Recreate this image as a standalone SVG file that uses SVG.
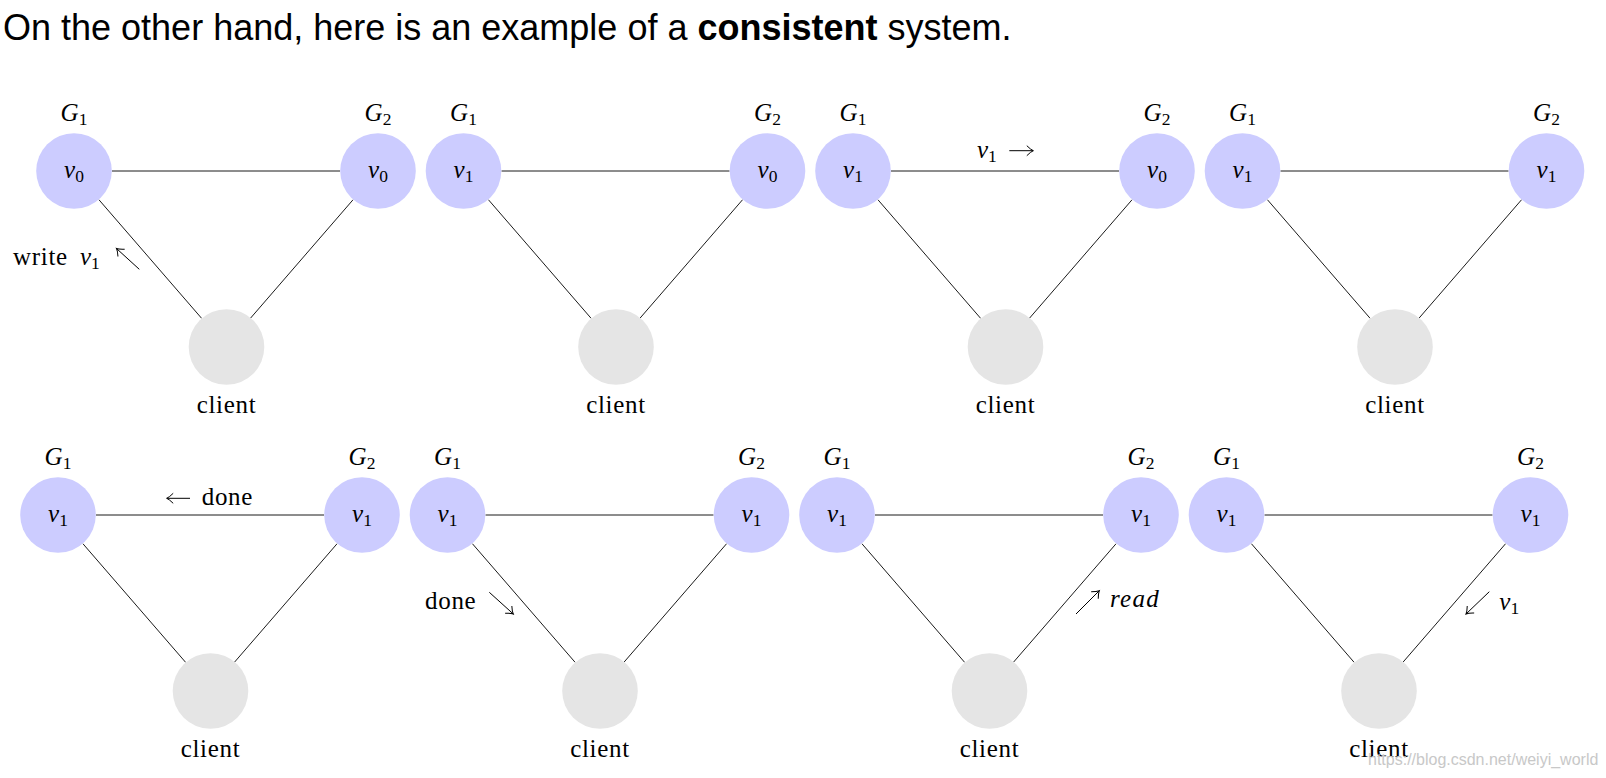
<svg xmlns="http://www.w3.org/2000/svg" width="1606" height="778" viewBox="0 0 1606 778">
<style>
.srv{fill:#ccccff}
.cli{fill:#e5e5e5}
.edge{stroke:#000;stroke-width:0.9;fill:none}
.arr{stroke:#000;stroke-width:1;fill:none;marker-end:url(#ah)}
.t{font-family:"Liberation Serif","Times New Roman",serif;font-size:25px;fill:#000}
.rm{letter-spacing:0.7px}
.it{font-style:italic}
.sub{font-style:normal;font-size:17.5px}
.title{font-family:"Liberation Sans",Arial,sans-serif;font-size:36px;fill:#000}
.wm{font-family:"Liberation Sans",Arial,sans-serif;font-size:16px;fill:#c8c8c8}
</style>
<defs>
<marker id="ah" markerUnits="userSpaceOnUse" markerWidth="14" markerHeight="14" refX="0" refY="0" viewBox="-8 -7 10 14" orient="auto" overflow="visible">
<path d="M -6.5,-5 Q -2.5,-1 0,0 Q -2.5,1 -6.5,5" stroke="#000" stroke-width="1" fill="none"/>
</marker>
</defs>
<rect width="1606" height="778" fill="#fff"/>
<text class="title" x="3" y="40">On the other hand, here is an example of a <tspan font-weight="bold">consistent</tspan> system.</text>

<g id="connectors">
<path class="edge" d="M112,171H340M98.9,199.7L201.6,318.3M353.1,199.7L250.4,318.3"/>
<path class="edge" d="M501.5,171H729.5M488.4,199.7L591.1,318.3M742.6,199.7L639.9,318.3"/>
<path class="edge" d="M891,171H1119M877.9,199.7L980.6,318.3M1132.1,199.7L1029.4,318.3"/>
<path class="edge" d="M1280.5,171H1508.5M1267.4,199.7L1370.1,318.3M1521.6,199.7L1418.9,318.3"/>
<path class="edge" d="M96,515H324M82.9,543.7L185.6,662.3M337.1,543.7L234.4,662.3"/>
<path class="edge" d="M485.5,515H713.5M472.4,543.7L575.1,662.3M726.6,543.7L623.9,662.3"/>
<path class="edge" d="M875,515H1103M861.9,543.7L964.6,662.3M1116.1,543.7L1013.4,662.3"/>
<path class="edge" d="M1264.5,515H1492.5M1251.4,543.7L1354.1,662.3M1505.6,543.7L1402.9,662.3"/>
</g>

<g id="p1-G1"><circle class="srv" cx="74" cy="171" r="37.8"/><text class="t it" x="74" y="178" text-anchor="middle">v<tspan class="sub" dy="4">0</tspan></text><text class="t it" x="74" y="121" text-anchor="middle">G<tspan class="sub" dy="4">1</tspan></text></g>
<g id="p1-G2"><circle class="srv" cx="378" cy="171" r="37.8"/><text class="t it" x="378" y="178" text-anchor="middle">v<tspan class="sub" dy="4">0</tspan></text><text class="t it" x="378" y="121" text-anchor="middle">G<tspan class="sub" dy="4">2</tspan></text></g>
<g id="p1-client"><circle class="cli" cx="226.5" cy="347" r="37.8"/><text class="t rm" x="226.5" y="412.7" text-anchor="middle">client</text></g>
<g id="p1-label"><text class="t" x="13" y="265"><tspan class="rm" letter-spacing="1.2">write</tspan><tspan class="it" x="80">v</tspan><tspan class="sub" dy="4">1</tspan></text><line class="arr" x1="139.3" y1="269.3" x2="116.5" y2="248.5"/></g>

<g id="p2-G1"><circle class="srv" cx="463.5" cy="171" r="37.8"/><text class="t it" x="463.5" y="178" text-anchor="middle">v<tspan class="sub" dy="4">1</tspan></text><text class="t it" x="463.5" y="121" text-anchor="middle">G<tspan class="sub" dy="4">1</tspan></text></g>
<g id="p2-G2"><circle class="srv" cx="767.5" cy="171" r="37.8"/><text class="t it" x="767.5" y="178" text-anchor="middle">v<tspan class="sub" dy="4">0</tspan></text><text class="t it" x="767.5" y="121" text-anchor="middle">G<tspan class="sub" dy="4">2</tspan></text></g>
<g id="p2-client"><circle class="cli" cx="616" cy="347" r="37.8"/><text class="t rm" x="616" y="412.7" text-anchor="middle">client</text></g>

<g id="p3-G1"><circle class="srv" cx="853" cy="171" r="37.8"/><text class="t it" x="853" y="178" text-anchor="middle">v<tspan class="sub" dy="4">1</tspan></text><text class="t it" x="853" y="121" text-anchor="middle">G<tspan class="sub" dy="4">1</tspan></text></g>
<g id="p3-G2"><circle class="srv" cx="1157" cy="171" r="37.8"/><text class="t it" x="1157" y="178" text-anchor="middle">v<tspan class="sub" dy="4">0</tspan></text><text class="t it" x="1157" y="121" text-anchor="middle">G<tspan class="sub" dy="4">2</tspan></text></g>
<g id="p3-client"><circle class="cli" cx="1005.5" cy="347" r="37.8"/><text class="t rm" x="1005.5" y="412.7" text-anchor="middle">client</text></g>
<g id="p3-label"><text class="t" x="977" y="158"><tspan class="it">v</tspan><tspan class="sub" dy="4">1</tspan></text><line class="arr" x1="1009.3" y1="150.7" x2="1033.3" y2="150.7"/></g>

<g id="p4-G1"><circle class="srv" cx="1242.5" cy="171" r="37.8"/><text class="t it" x="1242.5" y="178" text-anchor="middle">v<tspan class="sub" dy="4">1</tspan></text><text class="t it" x="1242.5" y="121" text-anchor="middle">G<tspan class="sub" dy="4">1</tspan></text></g>
<g id="p4-G2"><circle class="srv" cx="1546.5" cy="171" r="37.8"/><text class="t it" x="1546.5" y="178" text-anchor="middle">v<tspan class="sub" dy="4">1</tspan></text><text class="t it" x="1546.5" y="121" text-anchor="middle">G<tspan class="sub" dy="4">2</tspan></text></g>
<g id="p4-client"><circle class="cli" cx="1395" cy="347" r="37.8"/><text class="t rm" x="1395" y="412.7" text-anchor="middle">client</text></g>

<g id="p5-G1"><circle class="srv" cx="58" cy="515" r="37.8"/><text class="t it" x="58" y="522" text-anchor="middle">v<tspan class="sub" dy="4">1</tspan></text><text class="t it" x="58" y="465" text-anchor="middle">G<tspan class="sub" dy="4">1</tspan></text></g>
<g id="p5-G2"><circle class="srv" cx="362" cy="515" r="37.8"/><text class="t it" x="362" y="522" text-anchor="middle">v<tspan class="sub" dy="4">1</tspan></text><text class="t it" x="362" y="465" text-anchor="middle">G<tspan class="sub" dy="4">2</tspan></text></g>
<g id="p5-client"><circle class="cli" cx="210.5" cy="691" r="37.8"/><text class="t rm" x="210.5" y="756.7" text-anchor="middle">client</text></g>
<g id="p5-label"><line class="arr" x1="190" y1="498.3" x2="166.7" y2="498.3"/><text class="t rm" x="201.7" y="505">done</text></g>

<g id="p6-G1"><circle class="srv" cx="447.5" cy="515" r="37.8"/><text class="t it" x="447.5" y="522" text-anchor="middle">v<tspan class="sub" dy="4">1</tspan></text><text class="t it" x="447.5" y="465" text-anchor="middle">G<tspan class="sub" dy="4">1</tspan></text></g>
<g id="p6-G2"><circle class="srv" cx="751.5" cy="515" r="37.8"/><text class="t it" x="751.5" y="522" text-anchor="middle">v<tspan class="sub" dy="4">1</tspan></text><text class="t it" x="751.5" y="465" text-anchor="middle">G<tspan class="sub" dy="4">2</tspan></text></g>
<g id="p6-client"><circle class="cli" cx="600" cy="691" r="37.8"/><text class="t rm" x="600" y="756.7" text-anchor="middle">client</text></g>
<g id="p6-label"><text class="t rm" x="425" y="609.3">done</text><line class="arr" x1="489.3" y1="592.3" x2="513.3" y2="614"/></g>

<g id="p7-G1"><circle class="srv" cx="837" cy="515" r="37.8"/><text class="t it" x="837" y="522" text-anchor="middle">v<tspan class="sub" dy="4">1</tspan></text><text class="t it" x="837" y="465" text-anchor="middle">G<tspan class="sub" dy="4">1</tspan></text></g>
<g id="p7-G2"><circle class="srv" cx="1141" cy="515" r="37.8"/><text class="t it" x="1141" y="522" text-anchor="middle">v<tspan class="sub" dy="4">1</tspan></text><text class="t it" x="1141" y="465" text-anchor="middle">G<tspan class="sub" dy="4">2</tspan></text></g>
<g id="p7-client"><circle class="cli" cx="989.5" cy="691" r="37.8"/><text class="t rm" x="989.5" y="756.7" text-anchor="middle">client</text></g>
<g id="p7-label"><line class="arr" x1="1076" y1="614" x2="1099.3" y2="590.7"/><text class="t it" x="1110" y="606.7" letter-spacing="1.3">read</text></g>

<g id="p8-G1"><circle class="srv" cx="1226.5" cy="515" r="37.8"/><text class="t it" x="1226.5" y="522" text-anchor="middle">v<tspan class="sub" dy="4">1</tspan></text><text class="t it" x="1226.5" y="465" text-anchor="middle">G<tspan class="sub" dy="4">1</tspan></text></g>
<g id="p8-G2"><circle class="srv" cx="1530.5" cy="515" r="37.8"/><text class="t it" x="1530.5" y="522" text-anchor="middle">v<tspan class="sub" dy="4">1</tspan></text><text class="t it" x="1530.5" y="465" text-anchor="middle">G<tspan class="sub" dy="4">2</tspan></text></g>
<g id="p8-client"><circle class="cli" cx="1379" cy="691" r="37.8"/><text class="t rm" x="1379" y="756.7" text-anchor="middle">client</text></g>
<g id="p8-label"><line class="arr" x1="1489.3" y1="591.7" x2="1466" y2="614"/><text class="t" x="1499.3" y="610"><tspan class="it">v</tspan><tspan class="sub" dy="4">1</tspan></text></g>

<text class="wm" x="1368" y="765">https://blog.csdn.net/weiyi_world</text>
</svg>
